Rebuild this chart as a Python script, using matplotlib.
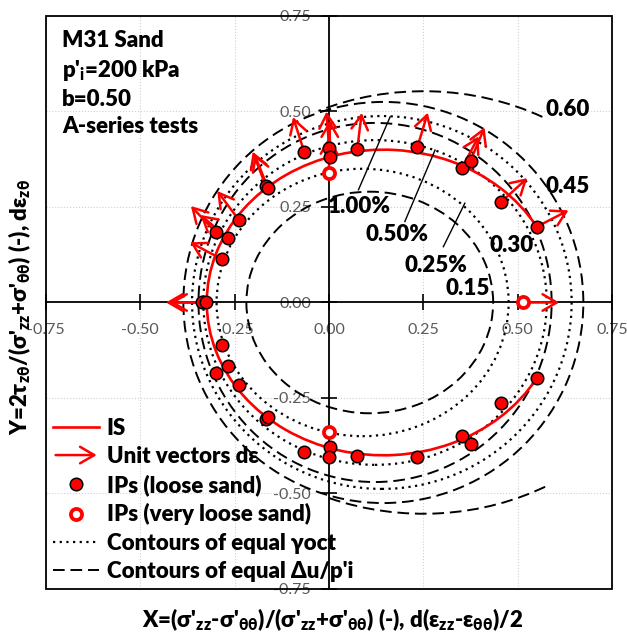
import numpy as np
import matplotlib
matplotlib.use("Agg")
import matplotlib.pyplot as plt
from matplotlib.patches import Ellipse, Arc, FancyArrowPatch, Rectangle
from matplotlib.legend_handler import HandlerBase
from matplotlib.lines import Line2D

plt.rcParams['font.family'] = ['Lato', 'DejaVu Sans']
plt.rcParams['mathtext.fontset'] = 'custom'
plt.rcParams['mathtext.rm'] = 'Lato'
plt.rcParams['mathtext.bf'] = 'Lato:heavy'
plt.rcParams['mathtext.default'] = 'bf'
plt.rcParams['mathtext.fallback'] = 'stixsans'
plt.rcParams['axes.unicode_minus'] = False

# instability points, loose sand
ip_loose_x = [-0.337, -0.326, -0.284, -0.268, -0.300, -0.239, -0.168, -0.162, -0.066,
              0.000, 0.002, 0.075, 0.234, 0.352, 0.375, 0.455, 0.550,
              -0.284, -0.267, -0.300, -0.239, -0.168, -0.162, -0.066,
              0.003, 0.000, 0.075, 0.234, 0.352, 0.375, 0.455, 0.550]
ip_loose_y = [0.000, 0.000, 0.113, 0.168, 0.184, 0.216, 0.306, 0.300, 0.395,
              0.405, 0.382, 0.402, 0.406, 0.351, 0.371, 0.262, 0.198,
              -0.111, -0.166, -0.184, -0.216, -0.305, -0.300, -0.392,
              -0.379, -0.404, -0.402, -0.404, -0.349, -0.371, -0.262, -0.197]

# instability points, very loose sand
ip_vloose_x = [0.000, 0.000, 0.515]
ip_vloose_y = [0.338, -0.338, 0.000]

# strain increment directions (deg) at the loading-side points
vec_x = [-0.337, -0.326, -0.284, -0.268, -0.300, -0.239, -0.168, -0.162, -0.066,
         0.000, 0.002, 0.075, 0.234, 0.352, 0.375, 0.455, 0.550, 0.000, 0.515]
vec_y = [0.000, 0.000, 0.113, 0.168, 0.184, 0.216, 0.306, 0.300, 0.395,
         0.405, 0.382, 0.402, 0.406, 0.351, 0.371, 0.262, 0.198, 0.338, 0.000]
vec_ang = [180, 180, 152, 140, 134, 127, 111, 112, 108,
           94, 90, 83, 73, 62, 67, 42, 27, 90, 0]

# instability surface (ellipse fit)
is_cx, is_a, is_b = 0.144, 0.468, 0.400
is_theta = (26, 334)

# contours of equal octahedral shear strain
gamma_labels = ['0.25%', '0.50%', '1.00%']
gamma_cx = [0.089, 0.122, 0.140]
gamma_a = [0.387, 0.455, 0.503]
gamma_b = [0.350, 0.425, 0.488]
gamma_lbl_x = [0.284, 0.179, 0.080]
gamma_lbl_y = [0.098, 0.177, 0.252]
gamma_lead_x = [(0.303, 0.360), (0.201, 0.281), (0.078, 0.162)]
gamma_lead_y = [(0.146, 0.260), (0.212, 0.399), (0.295, 0.486)]

# contours of equal excess pore pressure ratio
du_labels = ['0.15', '0.30', '0.45', '0.60']
du_cx = [0.108, 0.122, 0.144, 0.250]
du_a = [0.327, 0.468, 0.530, 0.660]
du_b = [0.290, 0.470, 0.525, 0.553]
du_spans = [[(0, 360)], [(0, 360)], [(0, 360)], [(57, 119), (244, 305)]]
du_lbl_x = [0.367, 0.484, 0.632, 0.632]
du_lbl_y = [0.037, 0.150, 0.304, 0.504]

ticks = [-0.75, -0.50, -0.25, 0.00, 0.25, 0.50, 0.75]

UNIT = 0.095
ARROW = '->,head_length=0.6,head_width=0.35'
DOT = (0, (1, 2))
DASH = (0, (6, 3))
BOLD = 'heavy'


class ArrowHandler(HandlerBase):
    def create_artists(self, legend, orig_handle, xdescent, ydescent,
                       width, height, fontsize, trans):
        y = height / 2 - ydescent
        arr = FancyArrowPatch((-xdescent, y), (-xdescent + width, y),
                              arrowstyle=ARROW, mutation_scale=17,
                              color='red', lw=1.8, transform=trans)
        return [arr]


fig = plt.figure(figsize=(6.27, 6.36), dpi=100)
ax = fig.add_axes([0.0734, 0.0739, 0.9027, 0.901])
ax.set_xlim(-0.75, 0.75)
ax.set_ylim(-0.75, 0.75)

# axes through the origin, outer box drawn separately
ax.spines['left'].set_position(('data', 0))
ax.spines['bottom'].set_position(('data', 0))
ax.spines['right'].set_visible(False)
ax.spines['top'].set_visible(False)
for s in ('left', 'bottom'):
    ax.spines[s].set_linewidth(1.3)
ax.add_patch(Rectangle((0, 0), 1, 1, transform=ax.transAxes, fill=False,
                       lw=1.3, ec='black', clip_on=False, zorder=5))
ax.set_xticks(ticks)
ax.set_yticks(ticks)
ax.xaxis.set_major_formatter('{x:.2f}')
ax.yaxis.set_major_formatter('{x:.2f}')
ax.tick_params(direction='inout', length=12, width=1.2, labelsize=11.5,
               labelcolor='#595959')
ax.tick_params(axis='x', pad=9)
ax.tick_params(axis='y', pad=7)
ax.grid(True, color='#d0d0d0', ls=':', lw=0.8)
ax.set_axisbelow(True)

for cx, a, b in zip(gamma_cx, gamma_a, gamma_b):
    ax.add_patch(Ellipse((cx, 0), 2 * a, 2 * b, fill=False, ec='black',
                         lw=1.6, ls=DOT, zorder=2))
for cx, a, b, spans in zip(du_cx, du_a, du_b, du_spans):
    for t1, t2 in spans:
        ax.add_patch(Arc((cx, 0), 2 * a, 2 * b, theta1=t1, theta2=t2,
                         ec='black', lw=1.4, ls=DASH, zorder=2))

ax.add_patch(Arc((is_cx, 0), 2 * is_a, 2 * is_b, theta1=is_theta[0],
                 theta2=is_theta[1], ec='red', lw=1.9, zorder=3))

for x0, y0, ang in zip(vec_x, vec_y, vec_ang):
    t = np.deg2rad(ang)
    ax.annotate('', xy=(x0 + UNIT * np.cos(t), y0 + UNIT * np.sin(t)),
                xytext=(x0, y0),
                arrowprops=dict(arrowstyle=ARROW, color='red', lw=1.8,
                                shrinkA=0, shrinkB=0, mutation_scale=17),
                zorder=3)

ax.plot(ip_loose_x, ip_loose_y, ls='none', marker='o', ms=9, mfc='red',
        mec='black', mew=1.1, zorder=4)
ax.plot(ip_vloose_x, ip_vloose_y, ls='none', marker='o', ms=8, mfc='white',
        mec='red', mew=2.7, zorder=4)

for lab, x, y, lx, ly in zip(gamma_labels, gamma_lbl_x, gamma_lbl_y,
                             gamma_lead_x, gamma_lead_y):
    ax.plot(lx, ly, color='black', lw=1.0, zorder=3)
    ax.text(x, y, lab, fontsize=16, fontweight=BOLD, ha='center',
            va='center', zorder=5)
for lab, x, y in zip(du_labels, du_lbl_x, du_lbl_y):
    ax.text(x, y, lab, fontsize=16, fontweight=BOLD, ha='center',
            va='center', zorder=5)

ax.text(0.028, 0.975, "M31 Sand\np'$_{i}$=200 kPa\nb=0.50\nA-series tests",
        transform=ax.transAxes, fontsize=16, fontweight=BOLD, va='top',
        ha='left', linespacing=1.35)

handles = [
    Line2D([], [], color='red', lw=1.9),
    FancyArrowPatch((0, 0), (1, 0)),
    Line2D([], [], ls='none', marker='o', ms=9, mfc='red', mec='black',
           mew=1.1),
    Line2D([], [], ls='none', marker='o', ms=8, mfc='white', mec='red',
           mew=2.7),
    Line2D([], [], color='black', lw=1.6, ls=DOT),
    Line2D([], [], color='black', lw=1.4, ls=DASH),
]
labels = ['IS', 'Unit vectors dε', 'IPs (loose sand)', 'IPs (very loose sand)',
          'Contours of equal γoct', "Contours of equal Δu/p'i"]
leg = ax.legend(handles, labels, loc='lower left', bbox_to_anchor=(0.012, 0.012),
                frameon=False, borderpad=0, borderaxespad=0,
                handlelength=2.1, handletextpad=0.32, labelspacing=0.33,
                prop={'size': 16, 'weight': BOLD},
                handler_map={FancyArrowPatch: ArrowHandler()})
leg.set_zorder(6)

fig.text(0.53, 0.025,
         r"X=(σ'$_{zz}$-σ'$_{θθ}$)/(σ'$_{zz}$+σ'$_{θθ}$) (-), d(ε$_{zz}$-ε$_{θθ}$)/2",
         fontsize=16, fontweight=BOLD, ha='center', va='center')
fig.text(0.032, 0.517,
         r"Y=2τ$_{zθ}$/(σ'$_{zz}$+σ'$_{θθ}$) (-), dε$_{zθ}$",
         fontsize=16, fontweight=BOLD, ha='center', va='center', rotation=90)

fig.savefig('out.png', dpi=100)
